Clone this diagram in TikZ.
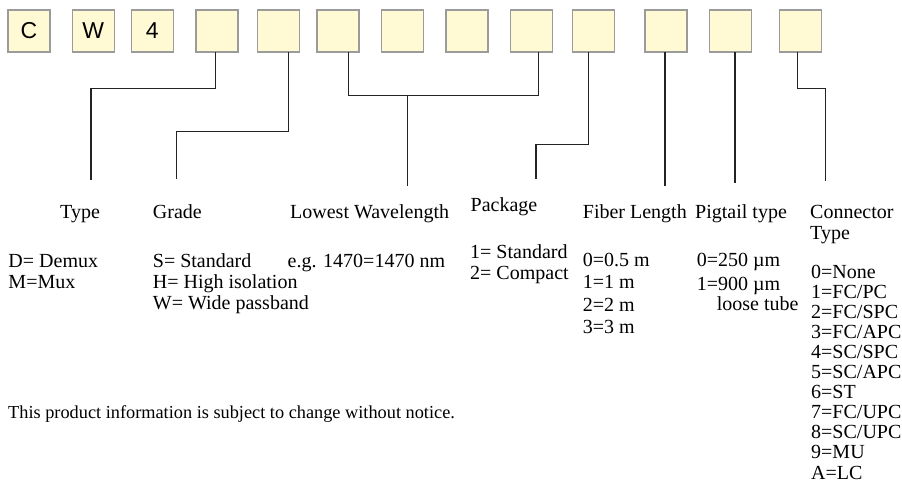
\documentclass[tikz,border=0pt]{standalone}
\usepackage{fontspec}
\setmainfont{Liberation Serif}
\newfontfamily\boxfont{Liberation Sans}
\definecolor{boxfill}{RGB}{255,250,212}
\definecolor{boxline}{RGB}{155,155,155}
\definecolor{wirecol}{RGB}{35,35,35}
\begin{document}
\begin{tikzpicture}[x=1pt,y=-1pt,
  codebox/.style={draw=boxline,line width=1.1pt,fill=boxfill,minimum width=42pt,minimum height=42pt,inner sep=0pt,outer sep=0pt,font=\boxfont\fontsize{23}{23}\selectfont},
  txt/.style={anchor=base west,inner sep=0pt,font=\fontsize{20}{20}\selectfont},
  smalltxt/.style={anchor=base west,inner sep=0pt,font=\fontsize{18.3}{18.3}\selectfont},
  wire/.style={draw=wirecol,line width=1.4pt}]
\useasboundingbox (0,0) rectangle (902,485);

% code boxes
\node[codebox] (b1) at (29,31) {C};
\node[codebox] (b2) at (93.3,31) {W};
\node[codebox] (b3) at (152.3,31) {4};
\node[codebox] (b4) at (217,31) {};
\node[codebox] (b5) at (278.3,31) {};
\node[codebox] (b6) at (338,31) {};
\node[codebox] (b7) at (402.3,31) {};
\node[codebox] (b8) at (467,31) {};
\node[codebox] (b9) at (531.3,31) {};
\node[codebox] (b10) at (593.3,31) {};
\node[codebox] (b11) at (666,31) {};
\node[codebox] (b12) at (730.3,31) {};
\node[codebox] (b13) at (800.3,31) {};

% headings
\node[txt] (hType) at (60,218) {Type};
\node[txt] (hGrade) at (152.7,218) {Grade};
\node[txt] (hWave) at (290,218) {Lowest Wavelength};
\node[txt] (hPack) at (470.5,211) {Package};
\node[txt] (hFiber) at (582.7,218) {Fiber Length};
\node[txt] (hPig) at (695,218) {Pigtail type};
\node[txt] (hConn) at (810,218) {Connector};
\node[txt] (hConn2) at (810,239) {Type};

% line ends
\coordinate (eType) at (91,180);
\coordinate (eGrade) at (176.7,179);
\coordinate (jWave) at (407.7,95.7);
\coordinate (eWave) at (407.7,186);
\coordinate (ePack) at (536,179);
\coordinate (eFiber) at (665,185.7);
\coordinate (ePig) at (735,183.3);
\coordinate (eConn) at (825.7,180.7);

% connectors
\draw[wire] ([xshift=-1.3pt]b4.south) -- ++(0,36.7) -| (eType);
\draw[wire] ([xshift=10pt]b5.south) -- ++(0,79.7) -| (eGrade);
\draw[wire] ([xshift=10.3pt]b6.south) -- ++(0,43.7) -| ([xshift=7pt]b9.south);
\draw[wire] (jWave) -- (eWave);
\draw[wire] ([xshift=-5pt]b10.south) -- ++(0,92.3) -| (ePack);
\draw[wire] (eFiber |- b11.south) -- (eFiber);
\draw[wire] (ePig |- b12.south) -- (ePig);
\draw[wire] ([xshift=-2.6pt]b13.south) -- ++(0,36.7) -| (eConn);

% option lists
\node[txt] (tD) at (8.3,267) {D= Demux};
\node[txt] (tM) at (8.3,288) {M=Mux};
\node[txt] (gS) at (152.7,267) {S= Standard};
\node[txt] (gH) at (152.7,288) {H= High isolation};
\node[txt] (gW) at (152.7,309) {W= Wide passband};
\node[txt] (wEg) at (287.5,267) {e.g. 1470=1470 nm};
\node[txt] (p1) at (470,258) {1= Standard};
\node[txt] (p2) at (470,279) {2= Compact};
\node[txt] (f0) at (582.7,266) {0=0.5 m};
\node[txt] (f1) at (582.7,288.5) {1=1 m};
\node[txt] (f2) at (582.7,311) {2=2 m};
\node[txt] (f3) at (582.7,333.5) {3=3 m};
\node[txt] (g0) at (696.7,266) {0=250 µm};
\node[txt] (g1) at (696.7,290) {1=900 µm};
\node[txt] (g2) at (716.7,310) {loose tube};
\foreach \t [count=\i from 0] in {0=None,1=FC/PC,2=FC/SPC,3=FC/APC,4=SC/SPC,5=SC/APC,6=ST,7=FC/UPC,8=SC/UPC,9=MU,A=LC}
  \node[txt] (c\i) at (811,278+20.1*\i) {\t};

\node[smalltxt] (foot) at (8,418) {This product information is subject to change without notice.};
\end{tikzpicture}
\end{document}
